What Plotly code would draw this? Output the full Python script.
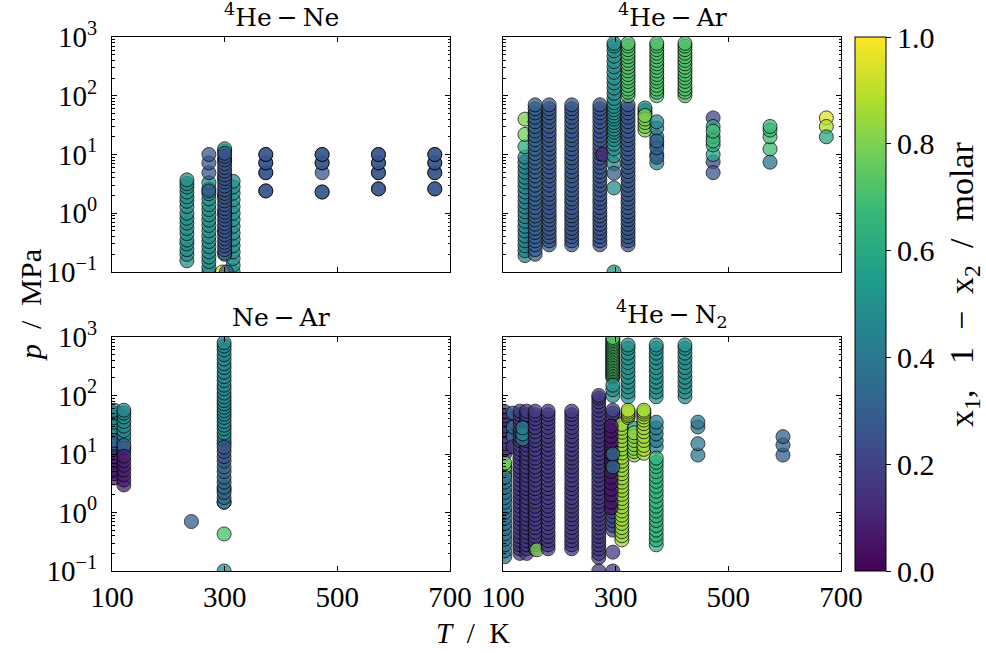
import plotly.graph_objects as go

FONT = "Liberation Serif, Times New Roman, serif"
TFONT = "DejaVu Serif"
W, H = 986, 653

# ---------------- data (T in K, x composition, p in MPa) ----------------
# shared pressure steps used by several isotherms
GRID_HEAR = [0.29, 0.34, 0.4, 0.47, 0.55, 0.65, 0.77, 0.9, 1.05, 1.25, 1.5, 1.75, 2.1,
             2.5, 3.0, 3.6, 4.3, 5.1, 6.1, 7.3, 8.7, 10.4, 12.4, 14.8, 17.7, 21, 25,
             30, 36, 43, 51, 60, 70]
GRID_HI = [100, 115, 130, 150, 175, 200, 230, 265, 305, 350, 400, 460, 530, 610, 700, 780]
GRID_HEN2 = [0.24, 0.28, 0.33, 0.39, 0.46, 0.55, 0.65, 0.77, 0.91, 1.08, 1.28, 1.52,
             1.8, 2.15, 2.55, 3.0, 3.6, 4.3, 5.1, 6.0, 7.2, 8.5, 10.1, 12, 14.3, 17,
             20, 24, 28.5, 34, 40, 47, 54]
GRID_HEN2_HI = [95, 115, 140, 170, 205, 250, 300, 365, 440, 530, 640, 730]

# 4He - Ne
HENE_T = [233, 272, 315, 300, 272, 300, 373, 473, 573, 673, 296, 303]
HENE_X = [0.50, 0.50, 0.50, 0.58, 0.27, 0.26, 0.27, 0.28, 0.27, 0.27, 0.95, 0.28]
HENE_P = [
    [0.155, 0.2, 0.24, 0.3, 0.35, 0.45, 0.55, 0.68, 0.82, 1.0, 1.3, 1.6, 1.9, 2.3, 2.8, 3.2, 3.7],
    [0.1, 0.12, 0.15, 0.18, 0.22, 0.27, 0.33, 0.4, 0.5, 0.62, 0.76, 0.94, 1.15, 1.4, 1.75, 2.15, 2.6, 3.3],
    [0.1, 0.13, 0.17, 0.22, 0.28, 0.36, 0.46, 0.6, 0.78, 1.0, 1.3, 1.7, 2.2, 2.8, 3.5],
    [0.2, 0.5, 1.0, 2.0, 4.0, 8.0, 11.5, 12.5],
    [2.4, 4.9, 7.2, 10],
    [0.21, 0.24, 0.28, 0.32, 0.37, 0.43, 0.5, 0.58, 0.67, 0.78, 0.9, 1.04, 1.2, 1.4, 1.62,
     1.88, 2.18, 2.5, 2.9, 3.4, 3.9, 4.5, 5.2, 6.0, 7.0, 8.1, 9.3, 10.5],
    [2.4, 2.4, 4.9, 4.9, 7.2, 7.2, 10, 10],
    [2.3, 2.3, 4.9, 7.2, 7.2, 10, 10],
    [2.6, 2.6, 4.9, 4.9, 7.2, 7.2, 10, 10],
    [2.6, 2.6, 4.9, 4.9, 7.2, 7.2, 10, 10],
    [0.1],
    [0.1],
]

# 4He - Ar
HEAR_T = [139, 139, 139, 139, 157, 157, 182, 222, 272, 277, 297, 297, 297, 322, 322,
          352, 352, 373, 373, 373, 423, 473, 473, 473, 473, 574, 574, 674, 674, 674]
HEAR_X = [0.45, 0.62, 0.78, 0.80, 0.50, 0.30, 0.27, 0.27, 0.26, 0.12, 0.50, 0.30, 0.50,
          0.27, 0.72, 0.50, 0.80, 0.72, 0.45, 0.30, 0.72, 0.22, 0.60, 0.68, 0.27, 0.68,
          0.38, 0.95, 0.88, 0.60]
HEAR_P = [
    [0.19, 0.23, 0.28, 0.34, 0.41, 0.5, 0.6, 0.73, 0.88, 1.06, 1.28, 1.55, 1.9, 2.3, 2.8,
     3.4, 4.1, 5.0, 6.1, 7.4, 9.0],
    [13.5],
    [22],
    [40],
    [20, 27, 36, 48],
    [0.2, 0.24] + GRID_HEAR,
    GRID_HEAR,
    GRID_HEAR,
    GRID_HEAR,
    [10],
    [2.7, 7.0, 9.5, 12.5, 15, 18, 21, 24, 27, 31, 35, 40, 45, 51, 58, 66, 76, 90, 110, 135,
     165, 200, 250, 310, 380, 470, 580, 700, 780],
    [4.8],
    [0.1],
    GRID_HEAR,
    GRID_HI,
    [50, 56, 62],
    [26, 30, 35, 40, 46],
    GRID_HI,
    [7.2, 10, 15, 20, 28, 36],
    [9, 13, 17],
    GRID_HI,
    [42, 7.5],
    [10, 14.5, 20, 30],
    [17, 25],
    [4.9],
    [12.4, 20, 26, 30],
    [7.4],
    [42],
    [30],
    [20],
]

# Ne - Ar
NEAR_T = [104, 104, 104, 121, 121, 121, 241, 299, 299, 299, 299, 299, 299]
NEAR_X = [0.47, 0.30, 0.08, 0.47, 0.30, 0.08, 0.30, 0.65, 0.47, 0.33, 0.25, 0.70, 0.50]
NEAR_P = [
    [20, 24, 29, 35, 42, 50, 56],
    [10, 12, 14.5, 17],
    [3.9, 4.6, 5.5, 6.5, 7.7, 9],
    [17, 21, 25, 30, 36, 43, 50, 56],
    [11, 12.5, 14],
    [2.95, 3.6, 4.4, 5.3, 6.4, 7.7, 9.2],
    [0.7],
    [1.5, 2.5, 15],
    [17, 20, 23, 27, 31, 36, 42, 48, 55, 63, 72, 82, 95, 110, 130, 150, 180, 210, 250,
     300, 350, 420, 500, 600, 700, 800],
    [1.5, 1.8, 2.2, 2.7, 3.3, 4, 5, 6],
    [7.5, 9, 11, 13],
    [0.43],
    [0.1],
]

# 4He - N2
HEN2_T = [103, 103, 103, 118, 118, 130, 142, 135, 157, 160, 180, 222, 270, 270, 295, 295,
          295, 311, 292, 295, 295, 322, 322, 333, 333, 350, 372, 372, 372, 423, 446, 597]
HEN2_X = [0.15, 0.78, 0.38, 0.35, 0.15, 0.17, 0.17, 0.45, 0.17, 0.80, 0.17, 0.17, 0.17,
          0.17, 0.72, 0.50, 0.20, 0.85, 0.06, 0.35, 0.17, 0.50, 0.88, 0.55, 0.82, 0.86,
          0.50, 0.42, 0.65, 0.50, 0.40, 0.30]
HEN2_P = [
    [10, 12, 15, 20, 25, 30, 38, 45, 53],
    [4.5, 5.5, 6, 7],
    [0.175, 0.22, 0.28, 0.35, 0.43, 0.53, 0.65, 0.8, 1.0, 1.2, 1.5, 1.8, 2.2, 2.7, 3.3, 4.0],
    [20, 29, 50],
    [13.3],
    [0.2] + GRID_HEN2,
    [0.2] + GRID_HEN2,
    [18, 22, 28],
    GRID_HEN2,
    [0.23],
    GRID_HEN2,
    GRID_HEN2,
    [0.17, 0.2, 0.24, 0.28, 0.33, 0.39, 0.46, 0.55, 0.65, 0.77, 0.91, 1.08, 1.28, 1.52, 1.8,
     2.15, 2.55, 3.0, 3.6, 4.3, 5.1, 6.0, 7.2, 8.5, 10.1, 12, 14.3, 17, 20, 24, 28.5, 34,
     40, 47, 56, 66, 78, 90, 100],
    [0.1],
    [200, 212, 225, 240, 255, 270, 287, 305, 325, 345, 367, 390, 415, 440, 470, 500, 530,
     565, 600, 640, 680, 720, 765, 815, 865, 920, 980],
    [100, 125, 150],
    [0.5, 0.6, 0.72, 0.86, 1.03, 1.23, 1.47, 1.75, 2.1, 2.5, 3.0, 3.6, 4.3, 5.1, 6.1, 7.3,
     8.7, 10.4, 12.4, 14.8, 17.7, 21, 25, 30, 36, 43, 50, 56],
    [0.34, 0.4, 0.47, 0.55, 0.65, 0.77, 0.9, 1.06, 1.25, 1.47, 1.73, 2.04, 2.4, 2.8, 3.3,
     3.9, 4.6, 5.4, 6.4, 7.5, 8.8, 10.4, 12.2, 14.4, 17, 20, 23.5, 27.5, 32],
    [1.2, 1.5, 2, 2.5, 3.2, 4, 5, 6.5, 8, 10, 13, 16, 20, 25, 30],
    [6, 10],
    [0.21, 0.1],
    GRID_HEN2_HI,
    [42, 45, 48, 52, 56],
    [27.6],
    [9.6, 11, 12.5, 14.5, 17, 20, 23],
    [10.3, 12, 14, 17, 20, 24, 28, 33, 38, 43, 48, 52, 56],
    GRID_HEN2_HI,
    [13.3, 17, 22, 28, 35],
    [0.28, 0.34, 0.41, 0.5, 0.6, 0.73, 0.88, 1.06, 1.28, 1.55, 1.9, 2.3, 2.8, 3.4, 4.1,
     5.0, 6.1, 7.2, 8.5],
    GRID_HEN2_HI,
    [9.6, 15, 29, 35],
    [9.6, 14.3, 19.8],
]

TITLES = ["<sup>4</sup>He\u2009−\u2009Ne", "<sup>4</sup>He\u2009−\u2009Ar",
          "Ne\u2009−\u2009Ar", "<sup>4</sup>He\u2009−\u2009N<sub>2</sub>"]
X_TICKS = [100, 300, 500, 700]
Y_TICKS = [0.1, 1, 10, 100, 1000]
Y_TICKTEXT = ["10<sup>−1</sup>", "10<sup>0</sup>", "10<sup>1</sup>", "10<sup>2</sup>", "10<sup>3</sup>"]
CB_TICKS = [0.0, 0.2, 0.4, 0.6, 0.8, 1.0]
CB_LABEL = "x<sub>1</sub>,\u2002 1\u2002−\u2002x<sub>2</sub>\u2002/\u2002molar"


def flat(Ts, Xs, Ps):
    tt, pp, cc = [], [], []
    for T, x, ps in zip(Ts, Xs, Ps):
        for p in ps:
            tt.append(T)
            pp.append(p)
            cc.append(x)
    return tt, pp, cc


panels = [(HENE_T, HENE_X, HENE_P), (HEAR_T, HEAR_X, HEAR_P),
          (NEAR_T, NEAR_X, NEAR_P), (HEN2_T, HEN2_X, HEN2_P)]

# plot area in pixels: x 112..841, y 37..571
ML, MR, MT, MB = 112, W - 841, 37, H - 571
PW, PH = 841 - ML, 571 - MT


def fx(px):
    return (px - ML) / PW


def fy(py):
    return 1 - (py - MT) / PH


xL = [fx(112), fx(450)]
xR = [fx(503), fx(841)]
yT = [fy(272), fy(37)]
yB = [fy(571), fy(337)]
doms = [(xL, yT), (xR, yT), (xL, yB), (xR, yB)]

fig = go.Figure()
for i, (Ts, Xs, Ps) in enumerate(panels):
    tt, pp, cc = flat(Ts, Xs, Ps)
    marker = dict(color=cc, colorscale="Viridis", cmin=0, cmax=1, size=14, opacity=0.75,
                  line=dict(color="black", width=1))
    if i == 0:
        marker["showscale"] = True
        marker["colorbar"] = dict(
            x=fx(855), xanchor="left", xpad=0, ypad=0,
            y=1, yanchor="top", len=1, lenmode="fraction",
            thickness=31, thicknessmode="pixels",
            outlinewidth=1, outlinecolor="black",
            ticks="outside", ticklen=5, tickcolor="black",
            tickvals=CB_TICKS, ticktext=[f"{v:.1f}" for v in CB_TICKS],
            tickfont=dict(family=FONT, size=30, color="black"),
        )
    else:
        marker["showscale"] = False
    sfx = "" if i == 0 else str(i + 1)
    fig.add_trace(go.Scatter(x=tt, y=pp, mode="markers", marker=marker,
                             xaxis="x" + sfx, yaxis="y" + sfx, showlegend=False,
                             hoverinfo="skip"))

    xd, yd = doms[i]
    xa = dict(domain=xd, anchor="y" + sfx, range=[100, 700], tickvals=X_TICKS,
              ticks="inside", ticklen=5, tickcolor="black", mirror="allticks",
              showline=True, linecolor="black", linewidth=1, showgrid=False,
              zeroline=False, showticklabels=(i >= 2),
              tickfont=dict(family=FONT, size=29, color="black"))
    ya = dict(domain=yd, anchor="x" + sfx, type="log", range=[-1, 3],
              tickvals=Y_TICKS, ticktext=Y_TICKTEXT,
              ticks="inside", ticklen=5, tickcolor="black", mirror="allticks",
              minor=dict(ticks="inside", ticklen=2.5, tickcolor="black", dtick="D1",
                         showgrid=False),
              showline=True, linecolor="black", linewidth=1, showgrid=False,
              zeroline=False, showticklabels=(i % 2 == 0), ticklabelstandoff=8,
              tickfont=dict(family=FONT, size=29, color="black"))
    fig.layout["xaxis" + sfx] = xa
    fig.layout["yaxis" + sfx] = ya

annots = []
centers = [(281, 34), (672, 34), (281, 334), (672, 334)]
for (cx, cy), t in zip(centers, TITLES):
    annots.append(dict(text=t, x=fx(cx), y=fy(cy), xref="paper", yref="paper",
                       xanchor="center", yanchor="bottom", showarrow=False,
                       font=dict(family=TFONT, size=25, color="black")))
annots.append(dict(text="<i>p</i>\u2002/\u2002MPa", x=fx(30), y=fy(305), xref="paper",
                   yref="paper", xanchor="center", yanchor="middle", textangle=-90,
                   showarrow=False, font=dict(family=FONT, size=30, color="black")))
annots.append(dict(text="<i>T</i>\u2002/\u2002K", x=fx(473), y=fy(633), xref="paper",
                   yref="paper", xanchor="center", yanchor="middle",
                   showarrow=False, font=dict(family=FONT, size=29, color="black")))
annots.append(dict(text=CB_LABEL, x=fx(964), y=fy(285), xref="paper",
                   yref="paper", xanchor="center", yanchor="middle", textangle=-90,
                   showarrow=False, font=dict(family=FONT, size=34, color="black")))

fig.update_layout(width=W, height=H, margin=dict(l=ML, r=MR, t=MT, b=MB, pad=0),
                  paper_bgcolor="white", plot_bgcolor="white",
                  font=dict(family=FONT, size=28, color="black"),
                  annotations=annots)

fig.write_html("out.html", config={"displayModeBar": False},
               post_script="document.body.style.margin='0px';document.body.style.padding='0px';")
